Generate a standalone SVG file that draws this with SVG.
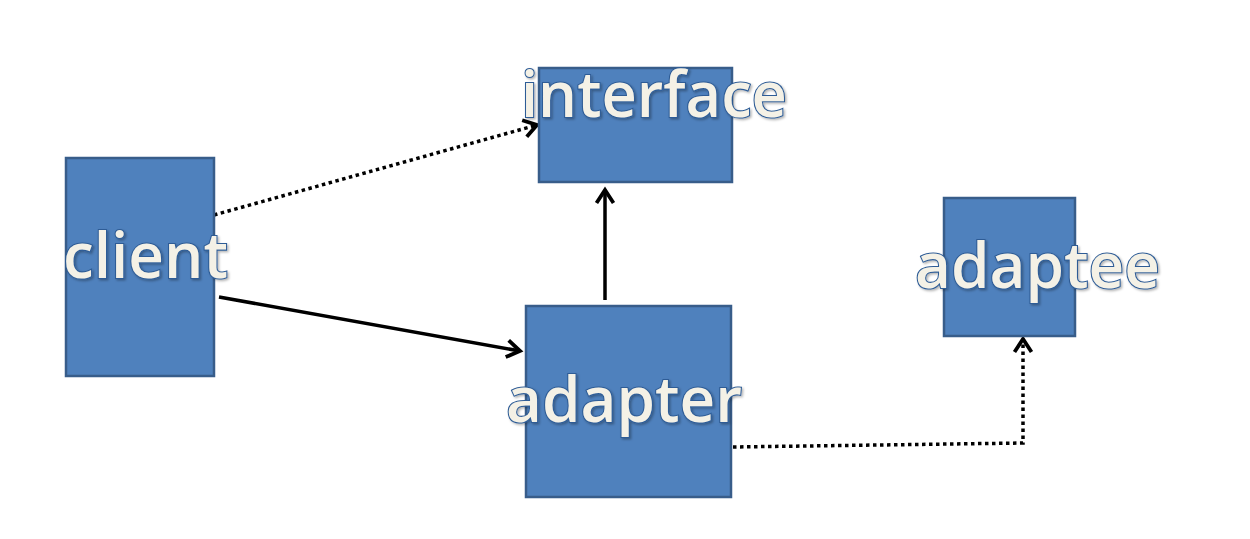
<svg xmlns="http://www.w3.org/2000/svg" width="1250" height="539" viewBox="0 0 1250 539">
<defs>
<style>
.box{fill:#4F81BD;stroke:#385D8A;stroke-width:2.5}
.lbl{font-family:"Open Sans","Noto Sans","Liberation Sans",sans-serif;font-weight:600;font-size:64px;fill:#F4F1E6;stroke:#2E5C96;stroke-width:2.2;paint-order:stroke;filter:url(#sh)}
.con{fill:none;stroke:#000;stroke-width:3.5}
.dot{stroke-dasharray:3.5 3.5}
</style>
<filter id="sh" x="-10%" y="-20%" width="120%" height="140%">
<feDropShadow dx="1.5" dy="1.5" stdDeviation="1" flood-color="#000" flood-opacity="0.3"/>
</filter>
<marker id="arr" viewBox="0 0 22 22" refX="17" refY="11" markerWidth="22" markerHeight="22" markerUnits="userSpaceOnUse" orient="auto">
<path d="M4,2.5 L17,11 L4,19.5" fill="none" stroke="#000" stroke-width="3.8"/>
</marker>
</defs>
<rect width="1250" height="539" fill="#fff"/>
<g id="connectors">
<path class="con dot" d="M214,215 L537,125" marker-end="url(#arr)"/>
<path class="con" d="M219,297 L520,351" marker-end="url(#arr)"/>
<path class="con" d="M605,300 L605,190" marker-end="url(#arr)"/>
<path class="con dot" d="M733,447 L1023,443 L1023,339" marker-end="url(#arr)"/>
</g>
<g id="client">
<rect class="box" x="66" y="158" width="148" height="218"/>
<text class="lbl" x="63" y="278" textLength="165" lengthAdjust="spacingAndGlyphs">client</text>
</g>
<g id="interface">
<rect class="box" x="539" y="68" width="193" height="114"/>
<text class="lbl" x="521" y="117" textLength="266" lengthAdjust="spacingAndGlyphs">interface</text>
</g>
<g id="adapter">
<rect class="box" x="526" y="306" width="205" height="191"/>
<text class="lbl" x="506" y="422" textLength="236" lengthAdjust="spacingAndGlyphs">adapter</text>
</g>
<g id="adaptee">
<rect class="box" x="944" y="198" width="131" height="138"/>
<text class="lbl" x="915" y="288" textLength="245" lengthAdjust="spacingAndGlyphs">adaptee</text>
</g>
</svg>
